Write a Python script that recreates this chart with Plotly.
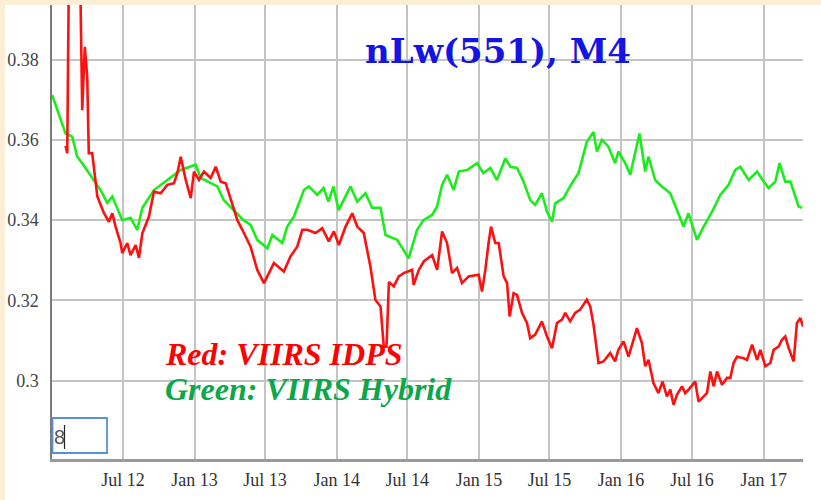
import pandas as pd
import plotly.graph_objects as go

# ---- data (decimal years, values) ----
green_t = [2012.001, 2012.048, 2012.095, 2012.142, 2012.177, 2012.212, 2012.294, 2012.341, 2012.388,
           2012.423, 2012.493, 2012.551, 2012.598, 2012.634, 2012.715, 2012.809, 2012.903, 2013.008,
           2013.043, 2013.160, 2013.205, 2013.275, 2013.345, 2013.394, 2013.441, 2013.512, 2013.547,
           2013.617, 2013.652, 2013.699, 2013.769, 2013.804, 2013.863, 2013.907, 2013.942, 2013.977,
           2014.013, 2014.097, 2014.144, 2014.202, 2014.249, 2014.308, 2014.343, 2014.425, 2014.506,
           2014.565, 2014.610, 2014.671, 2014.706, 2014.741, 2014.776, 2014.822, 2014.858, 2014.917,
           2014.987, 2015.031, 2015.080, 2015.127, 2015.186, 2015.221, 2015.268, 2015.314, 2015.361,
           2015.396, 2015.443, 2015.479, 2015.514, 2015.537, 2015.595, 2015.654, 2015.700, 2015.759,
           2015.806, 2015.830, 2015.865, 2015.911, 2015.958, 2015.981, 2016.029, 2016.064, 2016.099,
           2016.129, 2016.169, 2016.192, 2016.239, 2016.286, 2016.345, 2016.392, 2016.438, 2016.473,
           2016.532, 2016.579, 2016.638, 2016.696, 2016.754, 2016.801, 2016.836, 2016.895, 2016.954,
           2017.000, 2017.035, 2017.082, 2017.112, 2017.152, 2017.188, 2017.246, 2017.270]
green_v = [0.3712, 0.3662, 0.3616, 0.3608, 0.3558, 0.3542, 0.3500, 0.3475, 0.3443,
           0.3459, 0.3400, 0.3406, 0.3376, 0.3431, 0.3475, 0.3500, 0.3525, 0.3538,
           0.3505, 0.3484, 0.3450, 0.3425, 0.3400, 0.3388, 0.3351, 0.3330, 0.3363,
           0.3343, 0.3384, 0.3409, 0.3475, 0.3484, 0.3463, 0.3480, 0.3446, 0.3484,
           0.3425, 0.3484, 0.3446, 0.3467, 0.3431, 0.3431, 0.3363, 0.3351, 0.3305,
           0.3376, 0.3400, 0.3413, 0.3434, 0.3488, 0.3513, 0.3475, 0.3521, 0.3525,
           0.3542, 0.3517, 0.3530, 0.3500, 0.3554, 0.3533, 0.3530, 0.3496, 0.3450,
           0.3438, 0.3467, 0.3421, 0.3396, 0.3442, 0.3455, 0.3492, 0.3517, 0.3595,
           0.3620, 0.3571, 0.3600, 0.3583, 0.3542, 0.3571, 0.3542, 0.3513, 0.3567,
           0.3616, 0.3521, 0.3558, 0.3500, 0.3484, 0.3467, 0.3425, 0.3384, 0.3417,
           0.3351, 0.3384, 0.3421, 0.3463, 0.3488, 0.3525, 0.3533, 0.3500, 0.3521,
           0.3496, 0.3480, 0.3496, 0.3542, 0.3496, 0.3496, 0.3434, 0.3431]

red_t = [2012.095, 2012.107, 2012.118, 2012.137, 2012.186, 2012.200, 2012.212, 2012.230, 2012.247,
         2012.258, 2012.282, 2012.306, 2012.318, 2012.364, 2012.399, 2012.423, 2012.446, 2012.481,
         2012.493, 2012.528, 2012.551, 2012.587, 2012.610, 2012.634, 2012.680, 2012.715, 2012.762,
         2012.809, 2012.856, 2012.879, 2012.903, 2012.938, 2012.973, 2012.996, 2013.031, 2013.066,
         2013.113, 2013.149, 2013.184, 2013.219, 2013.254, 2013.301, 2013.336, 2013.394, 2013.441,
         2013.488, 2013.523, 2013.558, 2013.628, 2013.675, 2013.722, 2013.758, 2013.793, 2013.851,
         2013.898, 2013.944, 2013.980, 2014.015, 2014.062, 2014.109, 2014.144, 2014.190, 2014.237,
         2014.272, 2014.308, 2014.331, 2014.350, 2014.367, 2014.401, 2014.436, 2014.471, 2014.530,
         2014.541, 2014.577, 2014.612, 2014.671, 2014.706, 2014.741, 2014.776, 2014.811, 2014.846,
         2014.881, 2014.928, 2014.998, 2015.022, 2015.045, 2015.068, 2015.085, 2015.115, 2015.139,
         2015.174, 2015.198, 2015.216, 2015.244, 2015.268, 2015.303, 2015.338, 2015.361, 2015.396,
         2015.443, 2015.479, 2015.514, 2015.549, 2015.584, 2015.607, 2015.642, 2015.677, 2015.712,
         2015.759, 2015.783, 2015.806, 2015.841, 2015.876, 2015.923, 2015.958, 2015.981, 2016.017,
         2016.052, 2016.087, 2016.111, 2016.146, 2016.169, 2016.192, 2016.227, 2016.262, 2016.291,
         2016.321, 2016.345, 2016.368, 2016.392, 2016.427, 2016.450, 2016.473, 2016.520, 2016.543,
         2016.567, 2016.602, 2016.626, 2016.649, 2016.673, 2016.708, 2016.743, 2016.766, 2016.789,
         2016.813, 2016.860, 2016.883, 2016.919, 2016.954, 2016.977, 2017.012, 2017.047, 2017.070,
         2017.105, 2017.129, 2017.152, 2017.176, 2017.211, 2017.234, 2017.258, 2017.277]
red_v = [0.3585, 0.3567, 0.4000, 0.4150, 0.4100, 0.3950, 0.3674, 0.3832, 0.3757,
         0.3567, 0.3567, 0.3500, 0.3459, 0.3418, 0.3396, 0.3417, 0.3384, 0.3343,
         0.3318, 0.3343, 0.3313, 0.3338, 0.3306, 0.3368, 0.3409, 0.3471, 0.3467,
         0.3488, 0.3492, 0.3517, 0.3558, 0.3500, 0.3455, 0.3521, 0.3500, 0.3521,
         0.3505, 0.3533, 0.3496, 0.3492, 0.3450, 0.3400, 0.3376, 0.3334, 0.3276,
         0.3243, 0.3268, 0.3293, 0.3272, 0.3310, 0.3334, 0.3376, 0.3376, 0.3368,
         0.3380, 0.3347, 0.3372, 0.3338, 0.3384, 0.3417, 0.3384, 0.3368, 0.3284,
         0.3201, 0.3185, 0.3085, 0.3085, 0.3246, 0.3235, 0.3260, 0.3268, 0.3276,
         0.3239, 0.3276, 0.3297, 0.3313, 0.3276, 0.3372, 0.3343, 0.3268, 0.3281,
         0.3243, 0.3260, 0.3264, 0.3222, 0.3276, 0.3343, 0.3384, 0.3343, 0.3343,
         0.3260, 0.3243, 0.3160, 0.3218, 0.3214, 0.3169, 0.3144, 0.3106, 0.3115,
         0.3148, 0.3110, 0.3081, 0.3144, 0.3152, 0.3169, 0.3148, 0.3169, 0.3177,
         0.3202, 0.3185, 0.3140, 0.3044, 0.3048, 0.3069, 0.3048, 0.3077, 0.3098,
         0.3060, 0.3102, 0.3131, 0.3094, 0.3036, 0.3052, 0.2994, 0.2969, 0.2998,
         0.2961, 0.2978, 0.2940, 0.2965, 0.2986, 0.2969, 0.2978, 0.2998, 0.2948,
         0.2957, 0.2969, 0.3023, 0.2986, 0.3023, 0.2990, 0.3007, 0.3007, 0.3044,
         0.3060, 0.3056, 0.3052, 0.3090, 0.3052, 0.3077, 0.3036, 0.3044, 0.3077,
         0.3085, 0.3102, 0.3110, 0.3081, 0.3048, 0.3144, 0.3156, 0.3135]

tick_dates = ["2012-07-01", "2013-01-01", "2013-07-01", "2014-01-01", "2014-07-01",
              "2015-01-01", "2015-07-01", "2016-01-01", "2016-07-01", "2017-01-01"]
y_ticks = [0.30, 0.32, 0.34, 0.36, 0.38]

title_text = "nLw(551), M4"
red_label = "Red: VIIRS IDPS"
green_label = "Green: VIIRS Hybrid"
input_text = "8"


def to_dates(ts):
    out = []
    for t in ts:
        y = int(t)
        start = pd.Timestamp(year=y, month=1, day=1)
        end = pd.Timestamp(year=y + 1, month=1, day=1)
        out.append(start + (end - start) * (t - y))
    return out


fig = go.Figure()
fig.add_trace(go.Scatter(x=to_dates(green_t), y=green_v, mode="lines",
                         line=dict(color="#1aee1a", width=2.6), name="Hybrid"))
fig.add_trace(go.Scatter(x=to_dates(red_t), y=red_v, mode="lines",
                         line=dict(color="#ff1010", width=2.6), name="IDPS"))

L, R, T, B = 52, 18, 5, 41
W, H = 821, 500
pw, ph = W - L - R, H - T - B


def px(xp):
    return (xp - L) / pw


def py(yp):
    return (H - B - yp) / ph


fig.update_layout(
    width=W, height=H,
    margin=dict(l=L, r=R, t=T, b=B, autoexpand=False),
    paper_bgcolor="#fcefd6",
    plot_bgcolor="white",
    showlegend=False,
    xaxis=dict(
        type="date",
        range=["2012-01-01", "2017-04-12"],
        tickvals=tick_dates, tickformat="%b %y",
        showgrid=True, gridcolor="#c4c4c4", gridwidth=1.5,
        showline=True, linecolor="#9a9a9a", linewidth=2.5,
        ticks="", zeroline=False, automargin=False,
        tickfont=dict(family="Liberation Serif", size=18, color="#333333"),
        ticklabelstandoff=3,
    ),
    yaxis=dict(
        range=[0.2805, 0.3936],
        tickvals=y_ticks, tickformat=".2~f",
        showgrid=True, gridcolor="#c4c4c4", gridwidth=1.5,
        showline=True, linecolor="#7a7a7a", linewidth=1.5,
        ticks="", zeroline=False, automargin=False,
        tickfont=dict(family="Liberation Serif", size=18, color="#444444"),
        ticklabelstandoff=8,
    ),
    shapes=[
        dict(type="rect", xref="paper", yref="paper", layer="below",
             x0=px(5), x1=px(W + 5), y0=py(H + 5), y1=py(5),
             fillcolor="white", line=dict(width=0)),
        dict(type="rect", xref="paper", yref="paper", layer="above",
             x0=px(52.5), x1=px(107), y0=py(453), y1=py(418),
             fillcolor="white", line=dict(color="#5b8ed6", width=1.8)),
        dict(type="line", xref="paper", yref="paper", layer="above",
             x0=px(64.5), x1=px(64.5), y0=py(449), y1=py(425),
             line=dict(color="#222222", width=1.2)),
    ],
    annotations=[
        dict(text=title_text, xref="paper", yref="paper", x=px(498), y=py(51),
             xanchor="center", yanchor="middle", showarrow=False,
             font=dict(family="DejaVu Serif", size=34, color="#1414e6", weight="bold")),
        dict(text="<b><i>" + red_label + "</i></b>", xref="paper", yref="paper",
             x=px(163), y=py(354), xanchor="left", yanchor="middle", showarrow=False,
             font=dict(family="Liberation Serif", size=32, color="#ff0000")),
        dict(text="<b><i>" + green_label + "</i></b>", xref="paper", yref="paper",
             x=px(163), y=py(389), xanchor="left", yanchor="middle", showarrow=False,
             font=dict(family="Liberation Serif", size=32, color="#0aa84a")),
        dict(text=input_text, xref="paper", yref="paper", x=px(52), y=py(437),
             xanchor="left", yanchor="middle", showarrow=False,
             font=dict(family="Liberation Sans", size=20, color="#555555")),
    ],
)

fig.write_html("out.html",
               config={"displayModeBar": False},
               post_script="document.body.style.margin='0';document.body.style.overflow='hidden';")
